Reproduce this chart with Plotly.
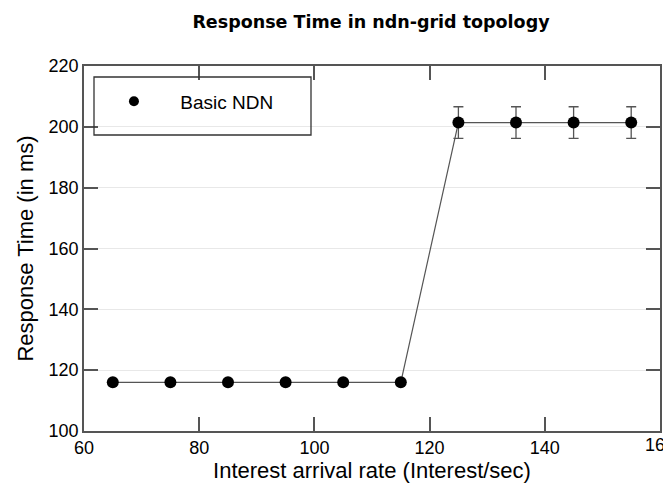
import plotly.graph_objects as go

# Interest arrival rate vs response time
rates = [65, 75, 85, 95, 105, 115, 125, 135, 145, 155]
response_ms = [116, 116, 116, 116, 116, 116, 201.4, 201.4, 201.4, 201.4]
err_ms = [0, 0, 0, 0, 0, 0, 5.2, 5.2, 5.2, 5.2]

x_ticks = [60, 80, 100, 120, 140, 160]
y_ticks = [100, 120, 140, 160, 180, 200, 220]

axis_col = "#555555"
nb = "\u00a0"

fig = go.Figure()
fig.add_trace(go.Scatter(
    x=rates,
    y=response_ms,
    mode="lines+markers",
    showlegend=False,
    line=dict(color="#555555", width=1.2),
    marker=dict(color="black", size=12),
    error_y=dict(type="data", array=err_ms, visible=True,
                 color="#555555", thickness=1.3, width=5),
))
# legend entry: marker only, like the original
fig.add_trace(go.Scatter(
    x=[None], y=[None],
    mode="markers",
    name=nb * 5 + "Basic NDN",
    marker=dict(color="black", size=10),
))

# page body adds an 8px offset, so the figure is 8px smaller each way
fig.update_layout(
    width=663,
    height=490,
    margin=dict(l=76, r=11, t=58, b=67, autoexpand=False),
    paper_bgcolor="white",
    plot_bgcolor="white",
    font=dict(family="Liberation Sans, Arial, sans-serif", size=18, color="black"),
    title=dict(
        text="<b>Response Time in ndn-grid topology</b>",
        font=dict(family="DejaVu Sans, Verdana, sans-serif", size=17.5, color="black"),
        x=0.5475, xanchor="center", y=0.971, yanchor="middle",
    ),
    showlegend=True,
    legend=dict(
        x=0.052, y=0.955, xanchor="left", yanchor="top",
        bgcolor="rgba(0,0,0,0)",
        font=dict(size=19),
    ),
    shapes=[dict(
        type="rect", xref="paper", yref="paper",
        x0=10 / 576, x1=227 / 576, y0=(431 - 135) / 365, y1=(431 - 77) / 365,
        line=dict(color="#333333", width=1.3), fillcolor="rgba(0,0,0,0)",
    )],
    # plotly drops the last tick label at the page edge; the original shows it clipped
    annotations=[dict(
        x=x_ticks[-1], xref="x", y=0, yref="paper",
        text=str(x_ticks[-1]), showarrow=False,
        xanchor="center", yanchor="top", yshift=-2,
        font=dict(size=18, color="black"),
    )],
)

fig.update_xaxes(
    range=[60, 160],
    tickvals=x_ticks,
    automargin=False,
    title=dict(text="Interest arrival rate (Interest/sec)", standoff=3),
    showline=True, linecolor=axis_col, linewidth=1.5, mirror="ticks",
    ticks="inside", ticklen=14, tickwidth=2, tickcolor=axis_col,
    showgrid=False, zeroline=False,
)
fig.update_yaxes(
    range=[100, 220],
    tickvals=y_ticks,
    automargin=False,
    title=dict(text="Response Time (in ms)", standoff=9),
    showline=True, linecolor=axis_col, linewidth=1.5, mirror="ticks",
    ticks="inside", ticklen=14, tickwidth=2, tickcolor=axis_col,
    showgrid=True, gridcolor="#e8e8e8", gridwidth=1, zeroline=False,
)

fig.write_html("out.html")
